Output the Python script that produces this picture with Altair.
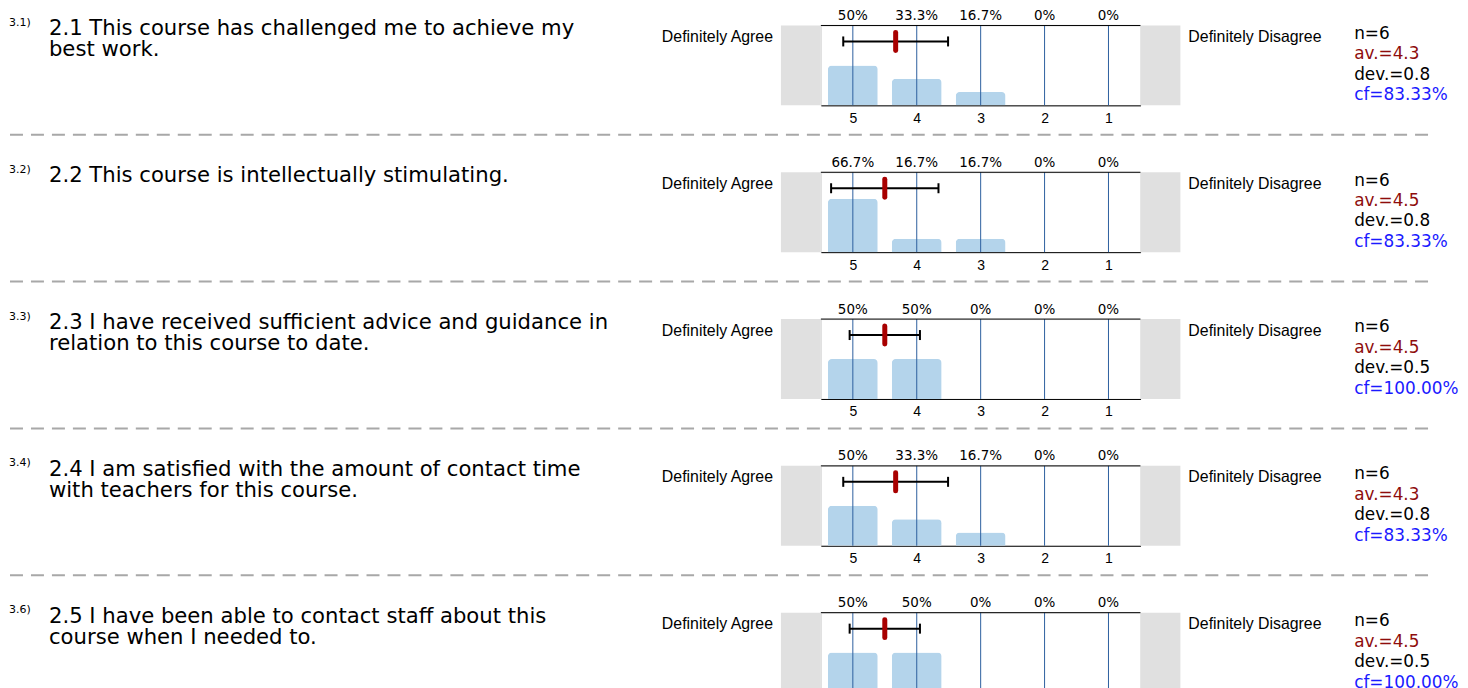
import altair as alt
import pandas as pd

# ---------------- data ----------------
numbers = ["3.1)", "3.2)", "3.3)", "3.4)", "3.6)"]
questions = [
    ["2.1 This course has challenged me to achieve my", "best work."],
    ["2.2 This course is intellectually stimulating."],
    ["2.3 I have received sufficient advice and guidance in", "relation to this course to date."],
    ["2.4 I am satisfied with the amount of contact time", "with teachers for this course."],
    ["2.5 I have been able to contact staff about this", "course when I needed to."],
]
scores = [5, 4, 3, 2, 1]
percents = [
    [50, 33.3, 16.7, 0, 0],
    [66.7, 16.7, 16.7, 0, 0],
    [50, 50, 0, 0, 0],
    [50, 33.3, 16.7, 0, 0],
    [50, 50, 0, 0, 0],
]
n_values = [6, 6, 6, 6, 6]
means = [4.33, 4.5, 4.5, 4.33, 4.5]
devs = [0.82, 0.84, 0.55, 0.82, 0.55]
av_labels = ["4.3", "4.5", "4.5", "4.3", "4.5"]
dev_labels = ["0.8", "0.8", "0.5", "0.8", "0.5"]
cf_labels = ["83.33%", "83.33%", "100.00%", "83.33%", "100.00%"]
left_label = "Definitely Agree"
right_label = "Definitely Disagree"

# ---------------- layout / style ----------------
W, H = 320, 80
FONT = "Liberation Sans"
WIDE = "DejaVu Sans"
xs = alt.Scale(domain=[0.5, 5.5], reverse=True, nice=False, zero=False, padding=0)
ys = alt.Scale(domain=[0, 100], nice=False, zero=True)
xax = alt.Axis(
    values=scores, format="d", ticks=False, tickSize=0, grid=False,
    domainColor="black", domainWidth=1, labelFontSize=14, labelColor="black",
    labelPadding=6, labelFont=FONT, title=None)


def row(i):
    dist = pd.DataFrame({
        "score": scores,
        "pct": percents[i],
        "label": [f"{p:g}%" for p in percents[i]],
    })
    stat = pd.DataFrame({
        "mean": [means[i]],
        "dev": [devs[i]],
        "num": [numbers[i]],
        "q": [questions[i]],
        "n": [f"n={n_values[i]}"],
        "av": [f"av.={av_labels[i]}"],
        "sd": [f"dev.={dev_labels[i]}"],
        "cf": [f"cf={cf_labels[i]}"],
        "left": [left_label],
        "right": [right_label],
    })
    one = pd.DataFrame({"k": [0]})

    def X(f):
        return alt.X(f, scale=xs, axis=xax)

    layers = []
    # grey side boxes
    layers.append(alt.Chart(one).mark_rect(color="#e0e0e0").encode(
        x=alt.value(-40), x2=alt.value(0), y=alt.value(0), y2=alt.value(H)))
    layers.append(alt.Chart(one).mark_rect(color="#e0e0e0").encode(
        x=alt.value(W), x2=alt.value(W + 40), y=alt.value(0), y2=alt.value(H)))
    # dashed separator
    layers.append(alt.Chart(one).mark_rule(color="#a8a8a8", strokeWidth=2, strokeDash=[13, 8]).encode(
        x=alt.value(-812), x2=alt.value(610), y=alt.value(109.5)))
    # bars
    layers.append(alt.Chart(dist).mark_bar(
        width=50, color="#b4d4eb", cornerRadiusTopLeft=4, cornerRadiusTopRight=4
    ).encode(
        x=X("score:Q"),
        y=alt.Y("pct:Q", scale=ys, axis=None),
    ))
    # vertical lines
    layers.append(alt.Chart(dist).mark_rule(color="#2d5f9f", strokeWidth=1).encode(
        x=X("score:Q"), y=alt.value(0), y2=alt.value(H)))
    # top border line
    layers.append(alt.Chart(one).mark_rule(color="black", strokeWidth=1).encode(
        x=alt.value(0), x2=alt.value(W), y=alt.value(0)))
    # error bar
    err = alt.Chart(stat).transform_calculate(
        lo="datum.mean - datum.dev", hi="datum.mean + datum.dev")
    layers.append(err.mark_rule(color="black", strokeWidth=2).encode(
        x=X("lo:Q"), x2="hi:Q", y=alt.value(16)))
    layers.append(err.transform_fold(["lo", "hi"], as_=["end", "val"]).mark_rule(
        color="black", strokeWidth=2).encode(
        x=X("val:Q"), y=alt.value(11), y2=alt.value(21)))
    # mean marker
    layers.append(alt.Chart(stat).mark_rule(color="#a80000", strokeWidth=5, strokeCap="round").encode(
        x=X("mean:Q"), y=alt.value(7), y2=alt.value(25)))
    # percent labels on top
    layers.append(alt.Chart(dist).mark_text(fontSize=13.5, baseline="alphabetic", color="black", font=WIDE).encode(
        x=X("score:Q"), y=alt.value(-5.5), text="label:N"))
    # question number & text
    layers.append(alt.Chart(stat).mark_text(align="left", baseline="alphabetic", fontSize=11, font=WIDE, color="black").encode(
        x=alt.value(-813), y=alt.value(0.6), text="num:N"))
    layers.append(alt.Chart(stat).mark_text(align="left", baseline="alphabetic", fontSize=21.2, lineHeight=21, font=WIDE, color="black").encode(
        x=alt.value(-773), y=alt.value(10), text="q:N"))
    # scale end labels
    layers.append(alt.Chart(stat).mark_text(align="right", baseline="alphabetic", fontSize=15.9, font=FONT, color="black").encode(
        x=alt.value(-48), y=alt.value(16.6), text="left:N"))
    layers.append(alt.Chart(stat).mark_text(align="left", baseline="alphabetic", fontSize=15.9, font=FONT, color="black").encode(
        x=alt.value(368), y=alt.value(16.6), text="right:N"))
    # statistics
    for field, col, yy in [("n", "black", 13.3), ("av", "#8e0c0c", 34), ("sd", "black", 54.3), ("cf", "#1a1aff", 75)]:
        layers.append(alt.Chart(stat).mark_text(align="left", baseline="alphabetic", fontSize=16.9, font=WIDE, color=col).encode(
            x=alt.value(534), y=alt.value(yy), text=f"{field}:N"))

    return alt.layer(*layers).properties(width=W, height=H)


chart = alt.vconcat(*[row(i) for i in range(5)], spacing=67, bounds="flush").properties(
    padding={"left": 0, "top": 0, "right": 0, "bottom": 0}
).configure_view(stroke=None).configure(font=FONT)

chart.save("out.html", embed_options={"renderer": "svg", "actions": False})
